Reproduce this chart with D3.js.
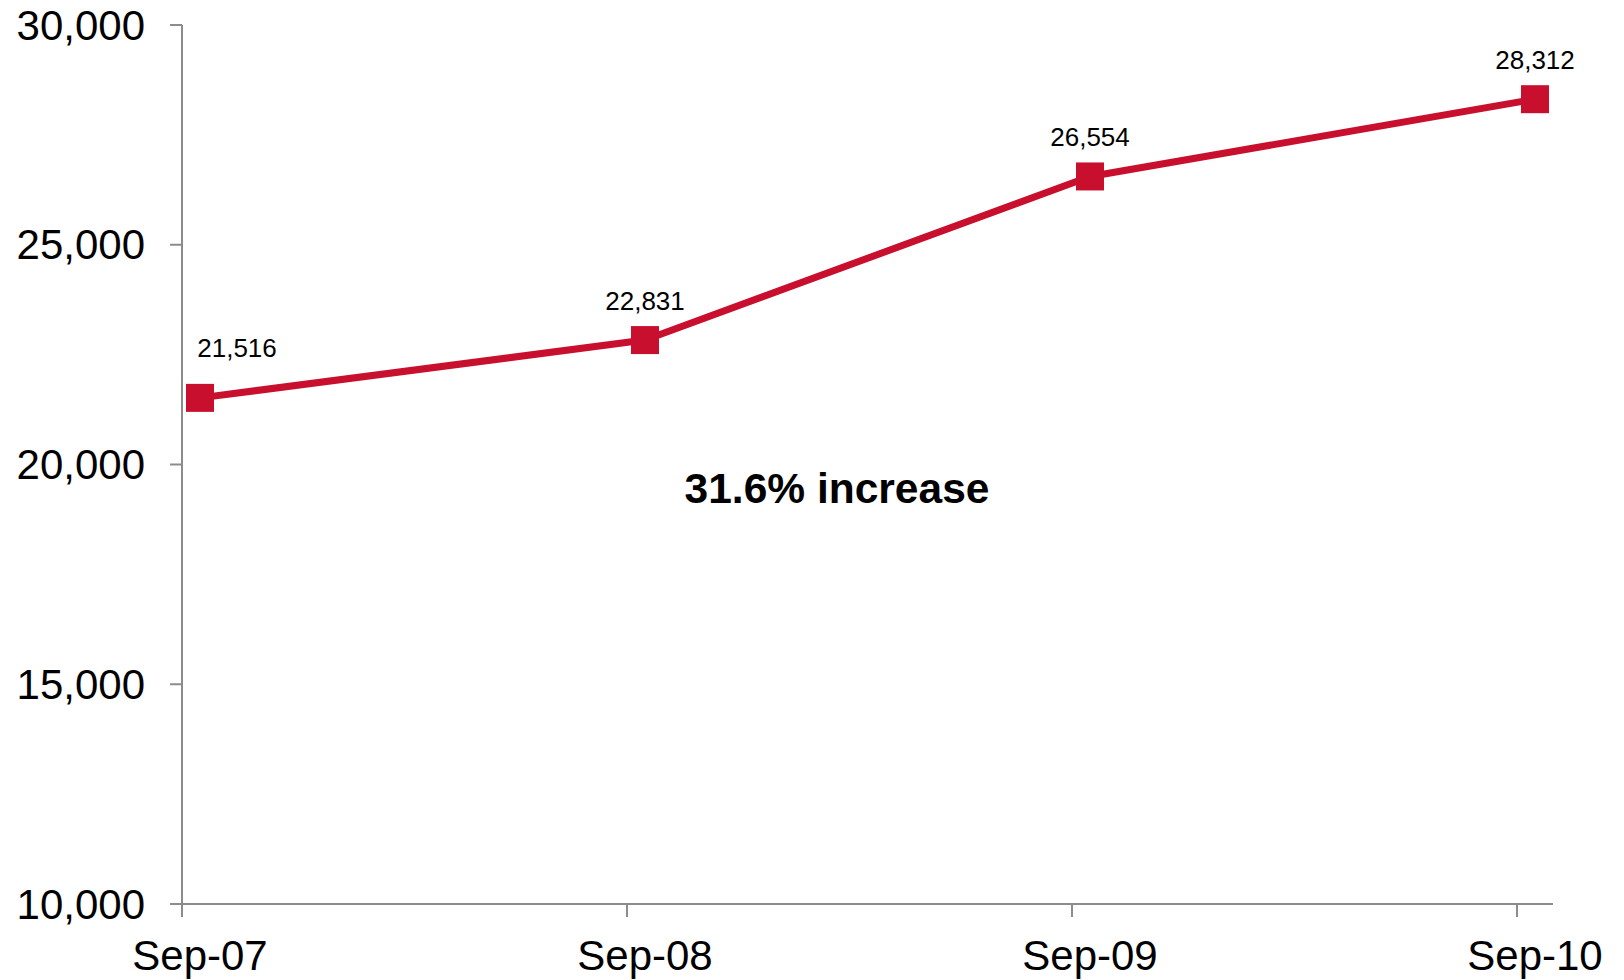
<!DOCTYPE html>
<html>
<head>
<meta charset="utf-8">
<script src="https://cdn.jsdelivr.net/npm/d3@7"></script>
<style>
  html, body { margin: 0; padding: 0; background: #fff; }
  svg { display: block; font-family: "Liberation Sans", Arial, sans-serif; }
</style>
</head>
<body>
<svg id="chart" width="1624" height="980"></svg>
<script>
// chart data
const periods = ["Sep-07", "Sep-08", "Sep-09", "Sep-10"];
const counts = [21516, 22831, 26554, 28312];
const yTicks = [10000, 15000, 20000, 25000, 30000];
const note = "31.6% increase";

const svg = d3.select("#chart");
const red = "#c8102e";
const axisColor = "#8c8c8c";

// scales
const x = d3.scalePoint().domain(periods).range([200, 1535]);
const y = d3.scaleLinear().domain([10000, 30000]).range([904, 25]);
const half = 18; // ticks sit half a step left of the points

// y axis
const yAxis = svg.append("g");
yAxis.append("line")
  .attr("x1", 182).attr("x2", 182)
  .attr("y1", y(30000)).attr("y2", y(10000) + 13)
  .attr("stroke", axisColor).attr("stroke-width", 2);
yAxis.selectAll(".yt")
  .data(yTicks)
  .enter().append("line")
  .attr("x1", 170).attr("x2", 182)
  .attr("y1", d => y(d)).attr("y2", d => y(d))
  .attr("stroke", axisColor).attr("stroke-width", 2);
yAxis.selectAll(".yl")
  .data(yTicks)
  .enter().append("text")
  .attr("x", 145)
  .attr("y", d => y(d))
  .attr("dy", "0.35em")
  .attr("text-anchor", "end")
  .attr("font-size", 42)
  .attr("fill", "#000")
  .text(d => d3.format(",")(d));

// x axis
const xAxis = svg.append("g");
xAxis.append("line")
  .attr("x1", 182).attr("x2", x("Sep-10") + half)
  .attr("y1", y(10000)).attr("y2", y(10000))
  .attr("stroke", axisColor).attr("stroke-width", 2);
xAxis.selectAll(".xt")
  .data(periods)
  .enter().append("line")
  .attr("x1", d => x(d) - half).attr("x2", d => x(d) - half)
  .attr("y1", y(10000)).attr("y2", y(10000) + 13)
  .attr("stroke", axisColor).attr("stroke-width", 2);
xAxis.selectAll(".xl")
  .data(periods)
  .enter().append("text")
  .attr("x", d => x(d))
  .attr("y", 970)
  .attr("text-anchor", "middle")
  .attr("font-size", 42)
  .attr("fill", "#000")
  .text(d => d);

// line + markers
const pts = periods.map((p, i) => ({ p, v: counts[i] }));
svg.append("path")
  .datum(pts)
  .attr("fill", "none")
  .attr("stroke", red)
  .attr("stroke-width", 7)
  .attr("stroke-linejoin", "round")
  .attr("d", d3.line().x(d => x(d.p)).y(d => y(d.v)));

const m = 28;
svg.selectAll(".mk")
  .data(pts)
  .enter().append("rect")
  .attr("x", d => x(d.p) - m / 2)
  .attr("y", d => y(d.v) - m / 2)
  .attr("width", m).attr("height", m)
  .attr("fill", red);

// value labels (first one nudged right, away from the axis)
svg.selectAll(".vl")
  .data(pts)
  .enter().append("text")
  .attr("x", (d, i) => x(d.p) + (i === 0 ? 37 : 0))
  .attr("y", (d, i) => y(d.v) - (i === 0 ? 41 : 30))
  .attr("text-anchor", "middle")
  .attr("font-size", 26)
  .attr("fill", "#000")
  .text(d => d3.format(",")(d.v));

// annotation
svg.append("text")
  .attr("x", 837)
  .attr("y", 503)
  .attr("text-anchor", "middle")
  .attr("font-size", 42.5)
  .attr("font-weight", "bold")
  .attr("fill", "#000")
  .text(note);
</script>
</body>
</html>
